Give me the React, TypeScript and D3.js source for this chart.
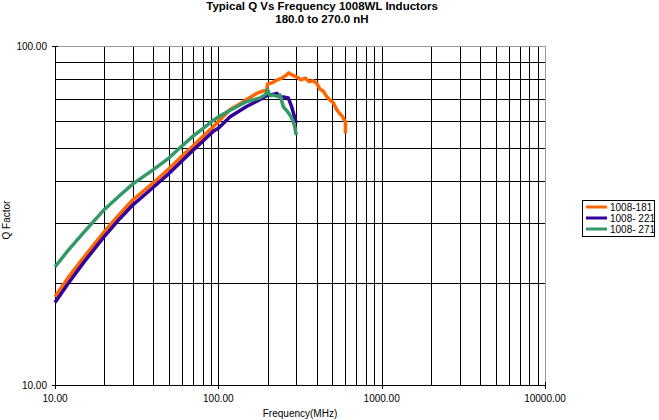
import React from "react";
import * as d3 from "d3";

const titleLines = ["Typical Q Vs Frequency 1008WL Inductors", "180.0 to 270.0 nH"];
const xTickValues = [10, 100, 1000, 10000];
const xTickLabels = ["10.00", "100.00", "1000.00", "10000.00"];
const yTickValues = [10, 100];
const yTickLabels = ["10.00", "100.00"];
const xLabel = "Frequency(MHz)";
const yLabel = "Q  Factor";

const seriesNames = ["1008-181", "1008- 221", "1008- 271"];
const seriesColors = ["#FF6600", "#330099", "#339966"];

const freq181 = [10, 12, 15, 20, 25, 30, 40, 50, 60, 70, 80, 93, 100, 118, 136, 148, 160, 172, 185, 198, 200, 215, 230, 245, 260, 270, 285, 300, 320, 340, 360, 380, 400, 420, 440, 460, 480, 506, 530, 556, 575, 590, 600, 600];
const q181 = [18.2, 20.7, 23.8, 28.3, 32.0, 35.2, 39.5, 43.5, 47.4, 50.7, 54.0, 57.8, 59.9, 65.0, 67.5, 69.5, 71.0, 72.5, 73.5, 74.0, 77.2, 78.0, 79.5, 80.4, 82.0, 83.3, 82.0, 81.1, 79.5, 80.4, 78.5, 79.0, 77.6, 74.5, 73.5, 71.0, 69.5, 68.0, 65.0, 63.0, 62.0, 60.5, 60.0, 55.2];

const freq221 = [10, 12, 15, 20, 25, 30, 40, 50, 60, 70, 80, 93, 100, 118, 136, 148, 165, 180, 200, 215, 228, 240, 250, 268, 281, 294, 300];
const q221 = [17.5, 19.9, 23.0, 27.4, 31.0, 34.0, 38.3, 42.1, 45.9, 49.3, 52.3, 56.0, 57.2, 61.8, 64.5, 66.2, 68.0, 69.6, 71.6, 72.0, 72.5, 70.5, 70.8, 70.3, 66.2, 61.3, 59.3];

const freq271 = [10, 12, 15, 20, 25, 30, 40, 50, 58, 70, 80, 93, 100, 118, 136, 148, 165, 180, 195, 200, 207, 217, 230, 239, 250, 262, 275, 285, 294, 300];
const q271 = [22.3, 24.9, 28.2, 32.9, 36.3, 39.2, 43.2, 46.8, 50.0, 54.2, 57.0, 60.3, 61.8, 64.6, 67.0, 68.5, 69.5, 70.3, 72.0, 74.3, 71.5, 71.6, 71.0, 71.6, 66.2, 64.5, 62.5, 60.5, 57.7, 54.6];

const seriesFreqs = [freq181, freq221, freq271];
const seriesQs = [q181, q221, q271];

const W = 659;
const H = 420;
const left = 55;
const right = 545;
const top = 46;
const bottom = 385;

export default function App() {
  const x = d3.scaleLog().domain([10, 10000]).range([left, right]);
  const y = d3.scaleLog().domain([10, 100]).range([bottom, top]);

  const xMinor: number[] = [];
  [10, 100, 1000].forEach((d) => {
    for (let k = 2; k <= 10; k++) xMinor.push(d * k);
  });
  const xMinorFiltered = xMinor.filter((v) => v < 10000);
  const yMinor: number[] = [];
  for (let k = 2; k <= 9; k++) yMinor.push(10 * k);

  const line = d3
    .line<[number, number]>()
    .x((d) => x(d[0]))
    .y((d) => y(d[1]));

  const font = "'Liberation Sans', Arial, sans-serif";

  return (
    <svg
      width={W}
      height={H}
      style={{ position: "absolute", left: 0, top: 0, background: "#fff" }}
      fontFamily={font}
    >
      <rect x={0} y={0} width={W} height={H} fill="#fff" />
      {titleLines.map((t, i) => (
        <text key={t} x={322} y={10 + i * 13} textAnchor="middle" fontSize={11.5} fontWeight="bold">
          {t}
        </text>
      ))}
      {/* gridlines */}
      {xMinorFiltered.map((v) => (
        <line key={"gx" + v} x1={Math.round(x(v)) + 0.5} x2={Math.round(x(v)) + 0.5} y1={top} y2={bottom} stroke="#000" strokeWidth={1} />
      ))}
      {yMinor.map((v) => (
        <line key={"gy" + v} x1={left} x2={right} y1={Math.round(y(v)) + 0.5} y2={Math.round(y(v)) + 0.5} stroke="#000" strokeWidth={1} />
      ))}
      {/* border */}
      <line x1={left} x2={right} y1={top + 0.5} y2={top + 0.5} stroke="#999" />
      <line x1={right + 0.5} x2={right + 0.5} y1={top} y2={bottom} stroke="#999" />
      <line x1={left + 0.5} x2={left + 0.5} y1={top} y2={bottom + 1} stroke="#000" />
      <line x1={left} x2={right + 1} y1={bottom + 0.5} y2={bottom + 0.5} stroke="#000" />
      {/* ticks */}
      {xTickValues.map((v, i) => (
        <g key={"xt" + v}>
          <line x1={Math.round(x(v)) + 0.5} x2={Math.round(x(v)) + 0.5} y1={bottom - 3} y2={bottom + 4} stroke="#000" />
          <text x={x(v)} y={402} textAnchor="middle" fontSize={10}>
            {xTickLabels[i]}
          </text>
        </g>
      ))}
      {yTickValues.map((v, i) => (
        <g key={"yt" + v}>
          <line x1={left - 3} x2={left + 3} y1={Math.round(y(v)) + 0.5} y2={Math.round(y(v)) + 0.5} stroke="#000" />
          <text x={47} y={y(v) + 3.5} textAnchor="end" fontSize={10}>
            {yTickLabels[i]}
          </text>
        </g>
      ))}
      <text x={300} y={417} textAnchor="middle" fontSize={10}>
        {xLabel}
      </text>
      <text transform={`translate(10, 220) rotate(-90)`} textAnchor="middle" fontSize={10}>
        {yLabel}
      </text>
      {/* series */}
      <g>
        {seriesNames.map((name, si) => {
          const pts: [number, number][] = seriesFreqs[si].map((f, j) => [f, seriesQs[si][j]]);
          return (
            <path
              key={name}
              d={line(pts) || ""}
              fill="none"
              stroke={seriesColors[si]}
              strokeWidth={3.5}
              strokeLinejoin="round"
            />
          );
        })}
      </g>
      {/* legend */}
      <g>
        <rect x={582.5} y={200.5} width={72} height={36} fill="#fff" stroke="#000" />
        {seriesNames.map((name, i) => (
          <g key={"lg" + name}>
            <line x1={586} x2={607} y1={207 + i * 11} y2={207 + i * 11} stroke={seriesColors[i]} strokeWidth={3} />
            <text x={610} y={211 + i * 11} fontSize={10}>
              {name}
            </text>
          </g>
        ))}
      </g>
    </svg>
  );
}
